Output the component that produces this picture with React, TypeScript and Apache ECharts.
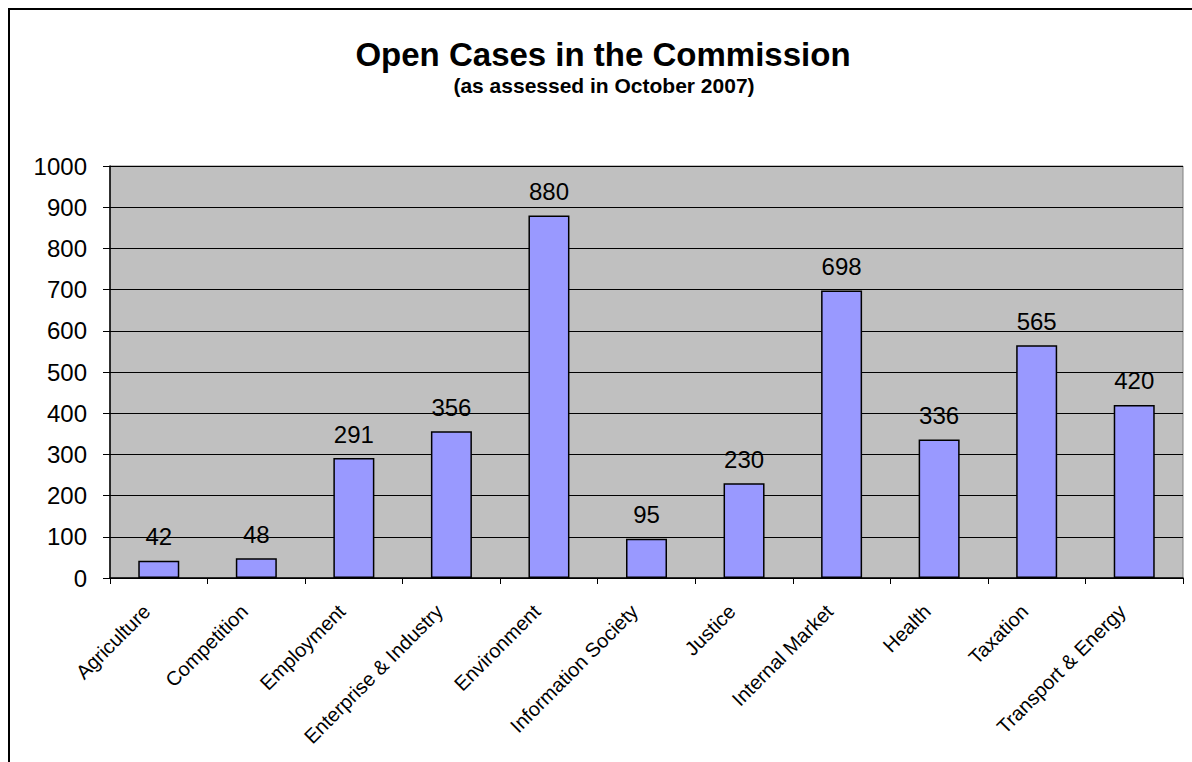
import React, { useEffect, useRef } from "react";
import * as echarts from "echarts";

const categories = [
  "Agriculture",
  "Competition",
  "Employment",
  "Enterprise & Industry",
  "Environment",
  "Information Society",
  "Justice",
  "Internal Market",
  "Health",
  "Taxation",
  "Transport & Energy",
];
const openCases = [42, 48, 291, 356, 880, 95, 230, 698, 336, 565, 420];
const yTicks = { min: 0, max: 1000, interval: 100 };
const titleText = "Open Cases in the Commission";
const subtitleText = "(as assessed in October 2007)";

const FONT = "'Liberation Sans', Arial, Helvetica, sans-serif";

export default function App() {
  const ref = useRef<HTMLDivElement>(null);
  useEffect(() => {
    if (!ref.current) return;
    const chart = echarts.init(ref.current, null, { renderer: "svg" });
    chart.setOption({
      animation: false,
      backgroundColor: "#ffffff",
      textStyle: { fontFamily: FONT },
      graphic: [
        {
          type: "rect",
          shape: { x: 9, y: 9, width: 1400, height: 1000 },
          style: { fill: "none", stroke: "#000", lineWidth: 2 },
          z: 100,
        },
        {
          type: "text",
          x: 603,
          y: 54,
          style: {
            text: titleText,
            fontFamily: FONT,
            fontSize: 33,
            lineHeight: 32,
            fontWeight: "bold",
            fill: "#000",
            align: "center",
            verticalAlign: "middle",
          },
        },
        {
          type: "text",
          x: 604,
          y: 85,
          style: {
            text: subtitleText,
            fontFamily: FONT,
            fontSize: 21,
            lineHeight: 20,
            fontWeight: "bold",
            fill: "#000",
            align: "center",
            verticalAlign: "middle",
          },
        },
      ],
      grid: {
        left: 110,
        right: 9,
        top: 166,
        bottom: 184,
        show: true,
        backgroundColor: "#C0C0C0",
        borderColor: "#808080",
        borderWidth: 1,
      },
      xAxis: {
        type: "category",
        data: categories,
        axisLine: { show: true, lineStyle: { color: "#000", width: 1.5 } },
        axisTick: { show: true, alignWithLabel: false, length: 6, lineStyle: { color: "#000" } },
        axisLabel: {
          rotate: 45,
          interval: 0,
          margin: 18,
          padding: [0, 17, 0, 0],
          fontSize: 20,
          color: "#000",
          fontFamily: FONT,
        },
        splitLine: { show: false },
      },
      yAxis: {
        type: "value",
        min: yTicks.min,
        max: yTicks.max,
        interval: yTicks.interval,
        axisLine: { show: true, lineStyle: { color: "#000", width: 1.5 } },
        axisTick: { show: true, length: 7, lineStyle: { color: "#000" } },
        axisLabel: {
          margin: 23,
          fontSize: 24,
          color: "#000",
          fontFamily: FONT,
          formatter: (v: number) => String(v),
        },
        splitLine: { show: true, lineStyle: { color: "#000", width: 1 } },
      },
      series: [
        {
          type: "bar",
          data: openCases,
          barWidth: 41,
          itemStyle: { color: "#9999FF", borderColor: "#000", borderWidth: 1.5 },
          label: {
            show: true,
            position: "top",
            distance: 12,
            fontSize: 24,
            color: "#000",
            fontFamily: FONT,
          },
        },
      ],
    });
    return () => chart.dispose();
  }, []);
  return (
    <div
      ref={ref}
      style={{ position: "fixed", left: 0, top: 0, width: 1192, height: 762 }}
    />
  );
}
